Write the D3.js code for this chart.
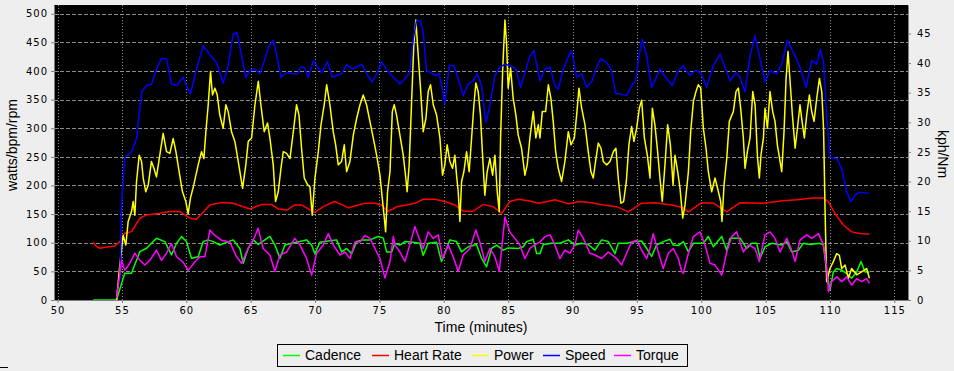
<!DOCTYPE html>
<html>
<head>
<meta charset="utf-8">
<style>
    body { margin: 0; background: #eeeeee; }
    svg { display: block; }
    .tick text { font-family: "DejaVu Sans", sans-serif; font-size: 10px; letter-spacing: 1px; fill: #000; }
    .title { font-family: "Liberation Sans", Arial, sans-serif; font-size: 14px; fill: #000; }
    .legend text { font-family: "Liberation Sans", Arial, sans-serif; font-size: 14px; fill: #000; }
    .series { fill: none; stroke-width: 1.5; stroke-linejoin: round; }
</style>
</head>
<body>
<svg></svg>
<script src="https://d3js.org/d3.v7.min.js"></script>
<script>
    // values: [minutes, value]
    var cadence = [[52.76,0],[54.58,0],[54.97,29],[55.22,46.6],[55.74,46.6],[56.39,84.5],[56.91,90.3],[57.68,107.9],[58.33,102],[58.85,78.7],[59.24,99],[59.63,110.7],[60.01,102],[60.4,73],[60.92,75.7],[61.31,102],[61.69,105],[62.08,102],[62.6,96],[63.64,105],[64.16,90],[64.42,64],[64.8,90],[65.2,105],[65.59,97],[66.1,105],[66.49,111],[66.88,96],[67.27,73],[67.66,96],[68.18,99],[68.82,102],[69.34,105],[69.73,96],[69.99,81],[70.38,101],[71.03,103],[71.67,105],[72.06,84],[72.45,90],[72.84,81],[73.23,102],[73.74,105],[74.26,105],[74.91,111],[75.3,108],[75.56,84],[75.95,84],[76.2,99],[76.59,96],[76.98,102],[77.62,101],[78.14,99],[78.4,78],[78.79,99],[79.44,101],[79.82,67],[80.08,81],[80.47,105],[80.99,102],[81.38,84],[81.9,93],[82.54,97],[82.93,73],[83.32,58],[83.71,90],[84.1,96],[84.62,87],[85.0,91],[85.78,90],[86.17,93],[86.43,102],[86.95,106],[87.21,81],[87.47,81],[87.73,97],[88.38,99],[89.02,99],[89.67,105],[90.19,96],[90.71,99],[91.22,97],[91.74,87],[92.26,105],[92.78,102],[93.3,81],[93.55,99],[94.2,99],[94.85,102],[95.37,103],[95.76,90],[96.14,76],[96.53,96],[97.05,102],[97.57,106],[97.83,96],[98.22,95],[98.61,102],[99.0,84],[99.39,99],[100.16,99],[100.55,111],[100.94,93],[101.59,111],[101.98,87],[102.24,108],[103.01,108],[103.53,90],[103.92,99],[104.31,99],[104.57,73],[104.95,93],[105.47,99],[106.25,96],[106.64,102],[107.03,84],[107.54,87],[107.93,99],[108.45,97],[109.23,99],[109.49,96],[109.74,49],[110.0,17],[110.26,49],[110.52,55],[110.91,52],[111.3,46],[111.68,38],[112.07,49],[112.41,67],[112.72,49],[113.06,49]];

    var heartRate = [[52.76,101],[53.0,94],[53.28,90.4],[53.7,92],[54.06,93.2],[54.44,94.4],[54.83,102],[55.22,116.6],[55.74,119.4],[56.39,142.8],[56.91,148.6],[57.94,151.6],[58.72,154.4],[59.5,154.4],[60.27,142.8],[60.79,141],[61.83,166],[62.73,170.1],[63.64,169],[64.94,159],[65.85,167],[66.62,167],[67.14,159],[67.79,157],[68.43,166],[68.95,166],[69.47,159],[69.99,153],[70.64,163],[71.49,172],[72.06,167],[72.58,161],[73.23,165],[73.87,169],[74.65,169],[75.17,166],[75.63,155],[76.08,159],[76.33,163],[77.1,166],[77.88,170],[78.4,176],[79.31,176],[80.08,172],[80.86,166],[81.51,155],[82.28,155],[83.06,167],[83.84,163],[84.49,151],[85.13,172],[85.78,176],[86.69,173],[87.34,169],[87.86,171],[88.63,175],[89.67,168],[90.58,172],[91.48,170],[92.39,166],[93.43,163],[94.33,154],[95.37,169],[96.4,170],[97.7,166],[98.61,161],[99.0,154],[100.03,170],[100.94,169],[101.98,154],[103.01,170],[104.83,169],[106.12,173],[107.42,175],[108.71,178],[109.48,178],[109.87,172],[110.39,151],[111.04,131],[111.68,119],[112.33,116],[113.06,115]];

    var power = [[54.58,0],[54.83,61],[55.09,113],[55.3,96],[55.48,137],[55.74,154],[55.87,172],[56.0,148],[56.13,207],[56.34,253],[56.52,242],[56.65,213],[56.85,189],[57.04,201],[57.29,242],[57.48,230],[57.68,215],[57.94,253],[58.2,291],[58.46,259],[58.72,256],[58.98,282],[59.19,259],[59.44,224],[59.7,189],[59.96,172],[60.14,151],[60.32,178],[60.58,201],[60.92,236],[61.18,259],[61.36,247],[61.52,294],[61.7,341],[61.88,399],[62.03,358],[62.22,370],[62.4,358],[62.6,323],[62.86,300],[63.07,341],[63.25,329],[63.51,294],[63.77,277],[63.95,253],[64.16,224],[64.37,195],[64.62,236],[64.81,277],[65.07,283],[65.33,341],[65.59,382],[65.79,341],[66.05,294],[66.31,309],[66.49,283],[66.75,236],[66.93,172],[67.14,189],[67.35,230],[67.53,259],[67.79,256],[68.05,247],[68.31,294],[68.56,341],[68.75,323],[68.95,265],[69.16,213],[69.42,201],[69.6,198],[69.78,148],[69.99,213],[70.25,259],[70.46,306],[70.71,341],[70.9,376],[71.15,341],[71.41,294],[71.6,271],[71.8,236],[72.06,242],[72.27,271],[72.45,224],[72.71,242],[72.97,288],[73.23,317],[73.49,341],[73.74,358],[74.0,341],[74.26,312],[74.52,283],[74.78,253],[75.04,218],[75.22,178],[75.38,143],[75.48,119],[75.63,189],[75.82,224],[76.0,329],[76.15,341],[76.33,323],[76.59,288],[76.85,253],[77.05,213],[77.15,189],[77.31,236],[77.49,341],[77.67,446],[77.83,489],[78.01,428],[78.19,370],[78.4,294],[78.61,317],[78.79,364],[78.97,376],[79.18,341],[79.44,323],[79.7,283],[79.9,218],[80.08,236],[80.26,271],[80.47,242],[80.68,230],[80.86,253],[80.99,218],[81.12,189],[81.25,137],[81.38,207],[81.56,224],[81.77,259],[81.97,224],[82.16,283],[82.34,341],[82.49,379],[82.67,364],[82.85,323],[83.01,253],[83.19,183],[83.37,224],[83.58,247],[83.79,218],[83.97,253],[84.15,189],[84.31,154],[84.41,283],[84.57,399],[84.75,489],[84.88,446],[85.0,370],[85.19,405],[85.39,352],[85.6,323],[85.78,288],[86.04,265],[86.3,218],[86.48,236],[86.69,283],[86.95,329],[87.15,283],[87.34,306],[87.47,283],[87.65,329],[87.91,329],[88.12,376],[88.32,352],[88.5,312],[88.69,259],[88.89,230],[89.15,207],[89.41,242],[89.67,294],[89.88,271],[90.14,283],[90.32,323],[90.5,370],[90.71,335],[90.97,306],[91.22,259],[91.43,224],[91.61,213],[91.79,242],[92.0,274],[92.21,265],[92.39,242],[92.65,236],[92.91,242],[93.17,259],[93.37,265],[93.55,213],[93.76,169],[93.97,172],[94.18,207],[94.38,271],[94.59,303],[94.77,277],[94.98,300],[95.19,335],[95.37,349],[95.58,283],[95.81,253],[96.02,213],[96.2,335],[96.4,306],[96.61,259],[96.79,213],[96.97,172],[97.18,236],[97.39,306],[97.6,271],[97.81,201],[97.96,253],[98.17,224],[98.35,195],[98.56,143],[98.74,166],[99.0,224],[99.18,294],[99.39,347],[99.59,364],[99.77,376],[99.96,370],[100.16,300],[100.37,265],[100.55,224],[100.81,189],[101.07,213],[101.33,189],[101.51,172],[101.61,137],[101.77,201],[101.98,247],[102.18,312],[102.49,329],[102.7,364],[102.88,370],[103.06,335],[103.27,283],[103.4,230],[103.58,259],[103.79,283],[104.0,364],[104.18,341],[104.36,253],[104.51,213],[104.64,253],[104.83,283],[104.95,335],[105.14,300],[105.34,364],[105.55,329],[105.73,312],[105.91,271],[106.12,242],[106.25,224],[106.43,294],[106.59,387],[106.74,434],[106.9,382],[107.08,323],[107.29,265],[107.47,300],[107.67,341],[107.83,312],[108.01,283],[108.19,323],[108.4,358],[108.58,329],[108.76,312],[108.97,352],[109.18,387],[109.36,364],[109.5,300],[109.62,154],[109.74,32],[110.0,55],[110.26,67],[110.52,81],[110.73,78],[110.91,55],[111.17,61],[111.43,38],[111.68,55],[112.07,44],[112.46,49],[112.85,55],[113.06,38]];

    // kph, right axis
    var speed = [[54.85,3.5],[54.96,16],[55.22,24.1],[55.74,25],[56.13,27.2],[56.52,35.1],[56.91,36.2],[57.29,36.4],[57.68,39],[58.07,40.8],[58.46,40.7],[58.85,36.5],[59.24,36.2],[59.75,37.6],[60.01,36.2],[60.32,34.8],[60.79,39],[61.31,42.9],[61.83,41.4],[62.35,40.1],[62.86,36.6],[63.25,39.6],[63.64,44.9],[63.95,45.1],[64.29,41.2],[64.62,37.6],[64.94,38.7],[65.33,39],[65.72,38.2],[66.1,40.7],[66.41,42.9],[66.75,43.8],[67.01,41.5],[67.35,37.6],[67.79,38.4],[68.31,38.2],[68.64,38.2],[68.9,39.3],[69.16,39.3],[69.47,37.6],[69.86,40.4],[70.12,39.6],[70.51,38.4],[70.97,40.2],[71.34,37.6],[71.67,37.9],[72.06,38.2],[72.45,39.7],[72.89,39],[73.23,39.3],[73.62,39.8],[74.0,38.2],[74.44,36.8],[74.83,38.4],[75.17,40.2],[75.63,38.7],[76.08,37.6],[76.59,36.5],[76.98,37.3],[77.36,38.4],[77.62,44],[77.88,47.1],[78.19,47.1],[78.4,45.2],[78.66,38.7],[78.97,38.4],[79.31,37.9],[79.64,38.2],[79.9,35.4],[80.08,33.1],[80.42,39.6],[80.78,39.6],[81.12,37.3],[81.51,34.5],[81.9,36.5],[82.28,37],[82.6,38.2],[82.93,36.2],[83.27,30],[83.58,32.8],[83.97,37.9],[84.36,39.3],[84.75,39.8],[85.13,39.6],[85.6,39],[85.96,35.9],[86.3,38.4],[86.69,41.2],[87.0,42.1],[87.34,38.4],[87.47,37],[87.86,39],[88.25,39.3],[88.63,36.2],[88.89,35.6],[89.28,39],[89.67,41],[89.93,42.1],[90.32,37.6],[90.71,38.2],[91.09,35.9],[91.53,37],[91.87,39.3],[92.18,40.7],[92.65,40.1],[93.04,38.7],[93.35,34.8],[93.68,34.8],[94.2,34.5],[94.59,36.2],[94.9,37],[95.16,41.2],[95.42,44],[95.76,41.2],[96.14,35.9],[96.46,37.3],[96.79,39],[97.23,37.6],[97.75,36.2],[98.22,38.7],[98.61,39.6],[98.74,39],[99.13,37.9],[99.52,38.7],[99.96,38.4],[100.42,35.9],[100.94,39.6],[101.46,41.5],[101.85,39.3],[102.24,37],[102.7,38.4],[103.01,37.6],[103.4,35.1],[103.79,41.2],[104.18,44.6],[104.57,40.7],[104.95,36.8],[105.34,38.7],[105.86,38.2],[106.25,39.8],[106.69,43.8],[107.16,41.8],[107.67,39.3],[108.14,35.9],[108.58,40.4],[108.97,39.8],[109.25,42.3],[109.5,40.1],[109.74,31.2],[110.0,24.1],[110.52,23.9],[110.91,22.2],[111.3,18.2],[111.63,16.6],[111.94,17.7],[112.28,18.2],[113.06,18.0]];

    // Nm, right axis
    var torque = [[54.58,0.3],[54.97,6.7],[55.22,5],[55.61,6.2],[56.0,7.9],[56.39,6.7],[56.78,5.9],[57.16,6.7],[57.68,8.4],[58.07,6.7],[58.46,7.9],[58.85,9.5],[59.24,7.3],[59.75,6.4],[60.14,5],[60.66,6.4],[61.05,7.3],[61.44,7.3],[61.83,11.8],[62.21,10.9],[62.73,10.1],[63.38,9.8],[63.9,7.3],[64.29,6.2],[64.8,8.7],[65.19,10.1],[65.58,12.1],[65.97,8.7],[66.49,7.6],[66.88,4.8],[67.27,7.6],[67.79,8.1],[68.43,10.4],[68.82,9.3],[69.34,7],[69.73,4.2],[70.12,7.9],[70.64,9.3],[71.03,11.2],[71.41,9.3],[71.93,7.6],[72.32,8.1],[72.71,7],[73.1,9.8],[73.49,9.8],[73.87,10.9],[74.26,10.4],[74.65,8.7],[75.04,7],[75.43,3.7],[75.82,6.5],[76.08,10.7],[76.2,9.3],[76.59,8.1],[76.98,6.5],[77.36,9.3],[77.75,12.4],[78.09,10.4],[78.4,8.7],[78.79,11.5],[79.18,10.4],[79.57,11],[79.9,7],[80.34,9.3],[80.73,7.3],[81.12,4.8],[81.51,7.6],[82.03,8.7],[82.49,11.8],[82.8,9.8],[83.19,6.5],[83.58,8.7],[83.97,7.3],[84.31,4.8],[84.75,14],[85.13,11.5],[85.52,10.4],[85.91,9.3],[86.3,7],[86.69,8.7],[87.08,9.3],[87.47,9.8],[87.86,10.7],[88.25,11],[88.63,9.3],[89.02,7],[89.41,8.4],[89.8,7.9],[90.19,9.3],[90.45,11.8],[90.84,10.4],[91.35,7.9],[91.74,7.6],[92.26,7],[92.78,8.1],[93.43,7],[93.81,5.9],[94.2,7.9],[94.59,9.8],[94.98,10.1],[95.37,8.4],[95.76,7],[96.01,8.7],[96.27,11.2],[96.66,8.1],[97.05,5.3],[97.44,7.9],[97.83,8.7],[98.22,7],[98.48,4.8],[98.61,4.5],[99.0,7.9],[99.39,10.7],[99.9,11.5],[100.29,9.3],[100.68,6.2],[101.07,5.9],[101.59,4.2],[101.98,8.1],[102.36,10.7],[102.75,11.5],[103.27,8.1],[103.66,9.3],[104.18,8.7],[104.51,6.5],[104.95,11],[105.34,11.5],[105.73,10.4],[106.12,8.1],[106.64,10.4],[107.03,8.4],[107.29,6.5],[107.67,10.1],[108.19,11],[108.58,10.4],[109.1,11.2],[109.49,9.3],[109.75,5.3],[109.88,1.4],[110.13,3.1],[110.52,3.9],[110.91,3.1],[111.3,3.9],[111.68,2.5],[112.07,3.6],[112.46,3.1],[112.85,3.6],[113.06,2.8]];

    var xTicks = d3.range(50, 116, 5);
    var leftTicks = d3.range(0, 501, 50);
    var rightTicks = d3.range(0, 46, 5);

    var seriesNames = ['Cadence', 'Heart Rate', 'Power', 'Speed', 'Torque'];
    var seriesColors = ['#00ff00', '#ff0000', '#ffff00', '#0000ff', '#ff00ff'];

    var width = 954, height = 371;
    var plot = { left: 54, right: 908, top: 5, bottom: 300 };

    var svg = d3.select('svg').attr('width', width).attr('height', height);

    var x = d3.scaleLinear().domain([49.72, 116.06]).range([plot.left, plot.right]);
    var yL = d3.scaleLinear().domain([0, 515.2]).range([plot.bottom, plot.top]);
    var yR = d3.scaleLinear().domain([0, 49.8]).range([plot.bottom, plot.top]);

    // black canvas
    svg.append('rect')
        .attr('x', plot.left).attr('y', plot.top)
        .attr('width', plot.right - plot.left).attr('height', plot.bottom - plot.top)
        .attr('fill', '#000');

    // grid
    svg.append('g').selectAll('line').data(leftTicks.slice(1)).join('line')
        .attr('x1', plot.left).attr('x2', plot.right)
        .attr('y1', function (d) { return Math.round(yL(d)) + 0.5; })
        .attr('y2', function (d) { return Math.round(yL(d)) + 0.5; })
        .attr('stroke', '#8c8c8c').attr('stroke-dasharray', '4,2');

    svg.append('g').selectAll('line').data(xTicks).join('line')
        .attr('y1', plot.top).attr('y2', plot.bottom)
        .attr('x1', function (d) { return Math.round(x(d)) + 0.5; })
        .attr('x2', function (d) { return Math.round(x(d)) + 0.5; })
        .attr('stroke', '#8c8c8c').attr('stroke-dasharray', '1,2');

    // series
    var clip = svg.append('clipPath').attr('id', 'clip').append('rect')
        .attr('x', plot.left).attr('y', plot.top)
        .attr('width', plot.right - plot.left).attr('height', plot.bottom - plot.top);

    var lineL = d3.line().x(function (d) { return x(d[0]); }).y(function (d) { return yL(d[1]); });
    var lineR = d3.line().x(function (d) { return x(d[0]); }).y(function (d) { return yR(d[1]); });

    var g = svg.append('g').attr('clip-path', 'url(#clip)');
    g.append('path').datum(cadence).attr('class', 'series').attr('stroke', seriesColors[0]).attr('d', lineL);
    g.append('path').datum(heartRate).attr('class', 'series').attr('stroke', seriesColors[1]).attr('d', lineL);
    g.append('path').datum(power).attr('class', 'series').attr('stroke', seriesColors[2]).attr('d', lineL);
    g.append('path').datum(speed).attr('class', 'series').attr('stroke', seriesColors[3]).attr('d', lineR);
    g.append('path').datum(torque).attr('class', 'series').attr('stroke', seriesColors[4]).attr('d', lineR);

    // axes
    var axisL = svg.append('g').attr('transform', 'translate(' + plot.left + ',0)')
        .call(d3.axisLeft(yL).tickValues(leftTicks).tickSize(3).tickPadding(3).tickSizeOuter(0));
    var axisR = svg.append('g').attr('transform', 'translate(' + plot.right + ',0)')
        .call(d3.axisRight(yR).tickValues(rightTicks).tickSize(3).tickPadding(6).tickSizeOuter(0));
    var axisB = svg.append('g').attr('transform', 'translate(0,' + plot.bottom + ')')
        .call(d3.axisBottom(x).tickValues(xTicks).tickSize(3).tickPadding(4).tickSizeOuter(0));

    [axisL, axisR, axisB].forEach(function (a) {
        a.selectAll('.domain, .tick line').attr('stroke', '#808080');
    });

    // titles
    svg.append('text').attr('class', 'title')
        .attr('transform', 'translate(17,145) rotate(-90)')
        .attr('text-anchor', 'middle')
        .text('watts/bpm/rpm');

    svg.append('text').attr('class', 'title')
        .attr('transform', 'translate(938,154) rotate(90)')
        .attr('text-anchor', 'middle')
        .text('kph/Nm');

    svg.append('text').attr('class', 'title')
        .attr('x', 481).attr('y', 332)
        .attr('text-anchor', 'middle')
        .text('Time (minutes)');

    // legend
    var legend = svg.append('g').attr('class', 'legend');
    legend.append('rect')
        .attr('x', 277.5).attr('y', 344.5).attr('width', 410).attr('height', 22)
        .attr('fill', 'none').attr('stroke', '#000');

    var itemX = [283, 372, 472, 543, 614];
    var items = legend.selectAll('g.item').data(seriesNames).join('g')
        .attr('class', 'item')
        .attr('transform', function (d, i) { return 'translate(' + itemX[i] + ',0)'; });
    items.append('line')
        .attr('x1', 0).attr('x2', 17).attr('y1', 355.5).attr('y2', 355.5)
        .attr('stroke', function (d, i) { return seriesColors[i]; })
        .attr('stroke-width', 1.5);
    items.append('text')
        .attr('x', 22).attr('y', 360)
        .text(function (d) { return d; });

    // stray mark at bottom-left
    svg.append('line')
        .attr('x1', 0).attr('x2', 8).attr('y1', 367.5).attr('y2', 367.5)
        .attr('stroke', '#000');
</script>
</body>
</html>
